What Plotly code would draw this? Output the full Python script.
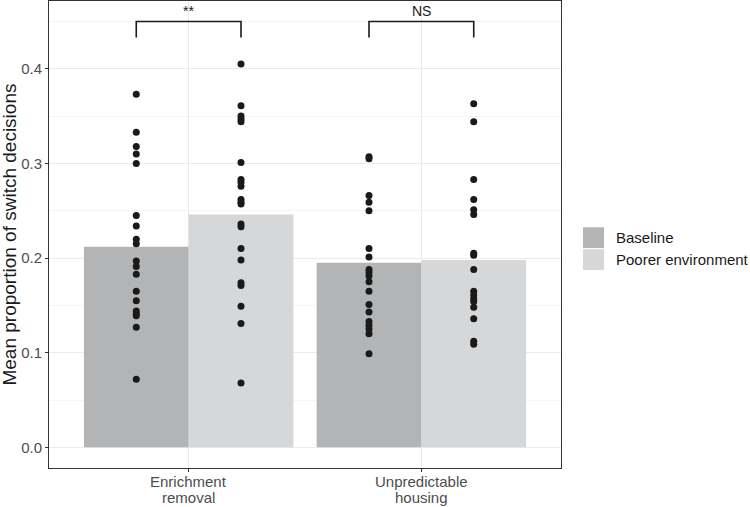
import plotly.graph_objects as go

# ---- data ----
category_lines = [["Enrichment", "removal"], ["Unpredictable", "housing"]]
conditions = ["Baseline", "Poorer environment"]
bar_means = {
    "Baseline": [0.212, 0.195],
    "Poorer environment": [0.246, 0.198],
}
points_enrich_baseline = [0.373, 0.333, 0.318, 0.310, 0.300, 0.245, 0.234, 0.220, 0.215,
                          0.197, 0.191, 0.183, 0.165, 0.155, 0.144, 0.141, 0.139, 0.127, 0.072]
points_enrich_poorer = [0.405, 0.361, 0.350, 0.347, 0.344, 0.301, 0.283, 0.280, 0.276,
                        0.262, 0.259, 0.257, 0.236, 0.233, 0.210, 0.198, 0.174, 0.171,
                        0.149, 0.131, 0.068]
points_unpred_baseline = [0.307, 0.305, 0.266, 0.259, 0.250, 0.210, 0.201, 0.188, 0.185,
                          0.181, 0.175, 0.165, 0.151, 0.143, 0.133, 0.129, 0.125, 0.120, 0.099]
points_unpred_poorer = [0.363, 0.344, 0.283, 0.262, 0.251, 0.246, 0.205, 0.203, 0.188,
                        0.165, 0.161, 0.157, 0.154, 0.148, 0.136, 0.112, 0.109]
points = {
    "Baseline": [points_enrich_baseline, points_unpred_baseline],
    "Poorer environment": [points_enrich_poorer, points_unpred_poorer],
}
sig_labels = ["**", "NS"]
sig_y = 0.45
y_ticks = [0.0, 0.1, 0.2, 0.3, 0.4]

# ---- styling ----
colors = {"Baseline": "#b3b4b6", "Poorer environment": "#d6d7d9"}
FONT = "Liberation Sans, Arial, sans-serif"
bar_w = 0.45
offsets = {"Baseline": -bar_w, "Poorer environment": 0.0}
centers = {"Baseline": -bar_w / 2, "Poorer environment": bar_w / 2}
xpos = list(range(len(category_lines)))

fig = go.Figure()
for cond in conditions:
    fig.add_trace(go.Bar(
        x=xpos, y=bar_means[cond], width=bar_w, offset=offsets[cond],
        marker=dict(color=colors[cond], line=dict(width=0)),
        name=cond, showlegend=False, hoverinfo="skip",
    ))
for cond in conditions:
    for i, vals in enumerate(points[cond]):
        fig.add_trace(go.Scatter(
            x=[i + centers[cond]] * len(vals), y=vals, mode="markers",
            marker=dict(color="#1a1a1a", size=7, line=dict(width=0)),
            showlegend=False, hoverinfo="skip",
        ))

# significance brackets
tick_drop = 0.017
for i, lab in enumerate(sig_labels):
    x0 = i + centers["Baseline"]
    x1 = i + centers["Poorer environment"]
    fig.add_trace(go.Scatter(
        x=[x0, x0, x1, x1], y=[sig_y - tick_drop, sig_y, sig_y, sig_y - tick_drop],
        mode="lines", line=dict(color="#1a1a1a", width=1.6),
        showlegend=False, hoverinfo="skip",
    ))
    fig.add_annotation(x=i, y=sig_y, text=lab, showarrow=False, yanchor="bottom",
                       yshift=0, font=dict(family=FONT, size=14, color="#1a1a1a"))

# category labels (two lines each, ggplot-like tight line spacing)
line_y = [-0.0293, -0.0642]
for i, lines in enumerate(category_lines):
    for ly, txt in zip(line_y, lines):
        fig.add_annotation(x=i, xref="x", yref="paper", y=ly, text=txt, showarrow=False,
                           xanchor="center", yanchor="middle",
                           font=dict(family=FONT, size=15, color="#4d4d4d"))

# manual legend (ggplot-style square keys)
key_x0, key_x1 = 1.043, 1.084
key_tops = [0.5155, 0.4685]
key_h = 0.0445
for cond, top in zip(conditions, key_tops):
    fig.add_shape(type="rect", xref="paper", yref="paper",
                  x0=key_x0, x1=key_x1, y0=top - key_h, y1=top,
                  fillcolor=colors[cond], line=dict(width=0))
    fig.add_annotation(xref="paper", yref="paper", x=1.104, y=top - key_h / 2,
                       text=cond, showarrow=False, xanchor="left", yanchor="middle",
                       font=dict(family=FONT, size=15, color="#1a1a1a"))

# y-axis title
fig.add_annotation(xref="paper", yref="paper", x=-0.078, y=0.5, text="Mean proportion of switch decisions",
                   textangle=-90, showarrow=False, xanchor="center", yanchor="middle",
                   font=dict(family=FONT, size=19, color="#1a1a1a"))

fig.update_layout(
    width=750, height=507,
    margin=dict(l=49, r=189, t=1, b=39, autoexpand=False),
    paper_bgcolor="white", plot_bgcolor="white",
    showlegend=False,
    font=dict(family=FONT, color="#4d4d4d"),
)
fig.update_xaxes(
    range=[-0.6, 1.6], tickvals=xpos, showticklabels=False,
    showgrid=True, gridcolor="#ebebeb", gridwidth=1.2,
    showline=True, linecolor="#333333", linewidth=1, mirror=True,
    ticks="outside", ticklen=3, tickcolor="#333333", zeroline=False,
)
fig.update_yaxes(
    range=[-0.0218, 0.4716], tickvals=y_ticks, tickformat=".1f",
    showgrid=True, gridcolor="#ebebeb", gridwidth=1.2,
    minor=dict(tick0=0.05, dtick=0.1, showgrid=True, gridcolor="#f4f4f4", gridwidth=0.8),
    showline=True, linecolor="#333333", linewidth=1, mirror=True,
    ticks="outside", ticklen=3, tickcolor="#333333",
    tickfont=dict(family=FONT, size=15, color="#4d4d4d"), zeroline=False,
)

fig.write_html("out.html", config={"displayModeBar": False},
               post_script="document.body.style.margin='0';document.body.style.overflow='hidden';")
